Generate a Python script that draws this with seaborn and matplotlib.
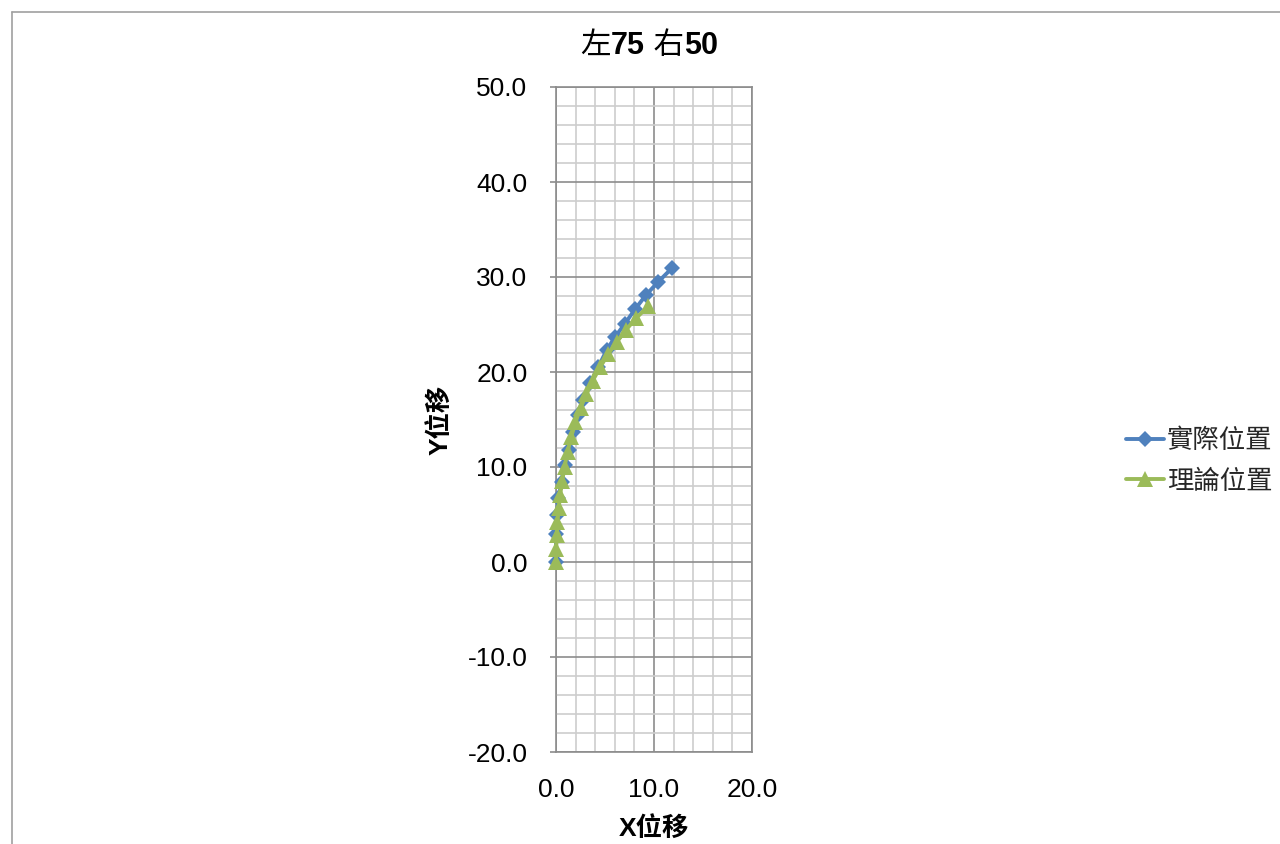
import matplotlib
matplotlib.use("Agg")
import matplotlib.pyplot as plt
import seaborn as sns
from matplotlib.ticker import MultipleLocator, FormatStrFormatter
from matplotlib.lines import Line2D

# Measured trajectory (actual position)
actual_x = [0.0, 0.0, 0.07, 0.24, 0.58, 0.92, 1.36, 1.77, 2.28, 2.8, 3.47,
            4.3, 5.17, 6.0, 7.04, 8.06, 9.18, 10.44, 11.8]
actual_y = [0.0, 3.0, 4.9, 6.7, 8.45, 10.2, 11.8, 13.7, 15.5, 17.05, 18.8,
            20.5, 22.3, 23.65, 25.1, 26.6, 28.1, 29.5, 30.9]

# Predicted trajectory (theoretical position)
theory_x = [0.0, 0.02, 0.07, 0.15, 0.27, 0.43, 0.63, 0.88, 1.18, 1.55, 1.98,
            2.5, 3.1, 3.75, 4.5, 5.3, 6.2, 7.15, 8.2, 9.4]
theory_y = [0.0, 1.4, 2.8, 4.2, 5.65, 7.1, 8.55, 10.05, 11.6, 13.15, 14.7,
            16.2, 17.65, 19.1, 20.5, 21.85, 23.15, 24.45, 25.7, 26.9]

series_names = ["實際位置", "理論位置"]
title_parts = [("左", "normal"), ("75", "bold"), (" 右", "normal"), ("50", "bold")]
x_label = "X位移"
y_label = "Y位移"
x_ticks = [0, 10, 20]
y_ticks = [-20, -10, 0, 10, 20, 30, 40, 50]

BLUE = "#4F81BD"
GREEN = "#9BBB59"
MAJOR_GRID = "#8C8C8C"
MINOR_GRID = "#CDCDCD"

LINE_W = 2.8
DIAMOND_MS = 8.0
TRIANGLE_MS = 11.0

sns.set_theme(style="white")
LATIN = "Liberation Sans"
CJK = "Noto Sans CJK TC"
plt.rcParams["font.family"] = [LATIN, CJK]

W, H = 1280, 844
fig = plt.figure(figsize=(W / 100, H / 100), dpi=100)
fig.patch.set_facecolor("white")

# plot area in pixels: x 556..752, y 87..752 (from top)
ax = fig.add_axes([556 / W, 1 - 752 / H, (752 - 556) / W, (752 - 87) / H])

sns.lineplot(x=actual_x, y=actual_y, sort=False, estimator=None, ax=ax,
             color=BLUE, linewidth=LINE_W, marker="D", markersize=DIAMOND_MS,
             markeredgewidth=0, legend=False, zorder=3, clip_on=False)
sns.lineplot(x=theory_x, y=theory_y, sort=False, estimator=None, ax=ax,
             color=GREEN, linewidth=LINE_W, marker="^", markersize=TRIANGLE_MS,
             markeredgewidth=0, legend=False, zorder=4, clip_on=False)

ax.set_xlim(0, 20)
ax.set_ylim(-20, 50)
ax.set_xticks(x_ticks)
ax.set_yticks(y_ticks)
ax.xaxis.set_minor_locator(MultipleLocator(2))
ax.yaxis.set_minor_locator(MultipleLocator(2))
ax.xaxis.set_major_formatter(FormatStrFormatter("%.1f"))
ax.yaxis.set_major_formatter(FormatStrFormatter("%.1f"))

ax.grid(which="minor", color=MINOR_GRID, linewidth=1.2, zorder=0)
ax.grid(which="major", color=MAJOR_GRID, linewidth=1.2, zorder=1)
ax.set_axisbelow(True)
for side, sp in ax.spines.items():
    sp.set_color(MAJOR_GRID)
    sp.set_linewidth(1.2)

ax.tick_params(axis="y", which="major", direction="out", length=4.5,
               width=1.2, color=MAJOR_GRID, pad=16, labelsize=19,
               left=True)
ax.tick_params(axis="x", which="major", length=0, pad=19, labelsize=19)
ax.tick_params(which="minor", length=0)
for lab in ax.get_xticklabels() + ax.get_yticklabels():
    lab.set_color("black")

ax.set_xlabel(x_label, fontsize=19, fontweight="bold", color="black")
ax.set_ylabel(y_label, fontsize=19, fontweight="bold", color="black")
ax.xaxis.label.set_va("center")
ax.yaxis.label.set_va("center")
ax.xaxis.set_label_coords(0.5, -(828 - 752) / (752 - 87))
ax.yaxis.set_label_coords((440 - 556) / (752 - 556), 0.5)

# Title: CJK characters regular, numbers bold, laid out piece by piece
fig.canvas.draw()
renderer = fig.canvas.get_renderer()
pieces = []
for txt, weight in title_parts:
    t = fig.text(0, 1 - 46 / H, txt, fontsize=22, fontweight=weight,
                 ha="left", va="center", color="black")
    pieces.append(t)
widths = [p.get_window_extent(renderer).width for p in pieces]
x0 = 649 - sum(widths) / 2
for p, w in zip(pieces, widths):
    p.set_x(x0 / W)
    x0 += w

# Legend
handles = [
    Line2D([], [], color=BLUE, linewidth=LINE_W, marker="D",
           markersize=DIAMOND_MS, markeredgewidth=0),
    Line2D([], [], color=GREEN, linewidth=LINE_W, marker="^",
           markersize=TRIANGLE_MS, markeredgewidth=0),
]
fig.legend(handles, series_names, loc="center left",
           bbox_to_anchor=(1126 / W, 1 - 461 / H), frameon=False,
           fontsize=19, handlelength=1.45, handletextpad=0.1,
           labelspacing=0.62, borderpad=0, borderaxespad=0)

# Chart-area border (left and top edges)
fig.add_artist(Line2D([12 / W, 12 / W], [0, 1 - 12 / H], color="#A0A0A0",
                      linewidth=1.2, transform=fig.transFigure))
fig.add_artist(Line2D([12 / W, 1], [1 - 12 / H, 1 - 12 / H], color="#A0A0A0",
                      linewidth=1.2, transform=fig.transFigure))

fig.savefig("out.png", dpi=100, facecolor="white")
